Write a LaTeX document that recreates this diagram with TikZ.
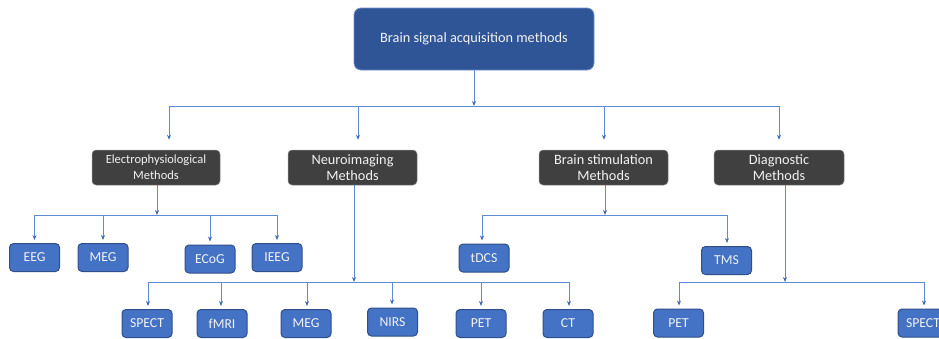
\documentclass[tikz,border=0pt]{standalone}
\usepackage{fontspec}
\setmainfont{Carlito}
\usetikzlibrary{arrows.meta}
\definecolor{rootfill}{HTML}{2F5597}
\definecolor{rootline}{HTML}{6F8FC8}
\definecolor{catfill}{HTML}{404040}
\definecolor{catline}{HTML}{8A8A8A}
\definecolor{leaffill}{HTML}{4472C4}
\definecolor{leafline}{HTML}{2F4F8A}
\definecolor{wire}{HTML}{5F8AD6}
\definecolor{tipcol}{HTML}{3C68BE}
\definecolor{label}{HTML}{F2F2F2}
\tikzset{
  rootbox/.style={rectangle, rounded corners=7pt, fill=rootfill, draw=rootline, line width=0.8pt,
    minimum width=240pt, minimum height=62pt, text=label, font=\fontsize{14.3}{16}\selectfont},
  catbox/.style={rectangle, rounded corners=4pt, fill=catfill, draw=catline, line width=0.5pt,
    minimum height=35pt, text=label, align=center, inner sep=0pt,
    font=\fontsize{14.3}{16.5}\selectfont},
  leafbox/.style={rectangle, rounded corners=4pt, fill=leaffill, draw=leafline, line width=1pt,
    minimum width=50pt, minimum height=28pt, inner sep=0pt, text=label,
    font=\fontsize{13.7}{15}\selectfont},
  wireline/.style={draw=wire, line width=1pt},
  feed/.style={wireline, -{Stealth[length=5pt,width=4pt,color=tipcol]}},
}
\begin{document}
\begin{tikzpicture}[x=1pt,y=-1pt]
\useasboundingbox (0,0) rectangle (939,338);
\clip (0,0) rectangle (939,338);

% root
\node[rootbox] (root) at (474,39) {Brain signal acquisition methods};

% categories
\node[catbox, minimum width=128pt, font=\fontsize{12.5}{16}\selectfont] (elec) at (156,167.5) {Electrophysiological\\Methods};
\node[catbox, minimum width=129pt] (neuro) at (352.5,167.5) {Neuroimaging\\Methods};
\node[catbox, minimum width=129pt] (stim) at (603.5,167.5) {Brain stimulation\\Methods};
\node[catbox, minimum width=130pt] (diag) at (779,167.5) {Diagnostic\\Methods};

% electrophysiological leaves
\node[leafbox] (eeg) at (34.5,257.5) {EEG};
\node[leafbox] (meg1) at (103,257.5) {MEG};
\node[leafbox] (ecog) at (210,259) {ECoG};
\node[leafbox] (ieeg) at (277,257.5) {IEEG};

% stimulation leaves
\node[leafbox] (tdcs) at (484,258) {tDCS};
\node[leafbox] (tms) at (726.5,260.5) {TMS};

% neuroimaging leaves
\node[leafbox] (spect1) at (147,323.5) {SPECT};
\node[leafbox] (fmri) at (222,323.5) {fMRI};
\node[leafbox] (meg2) at (306,323.5) {MEG};
\node[leafbox] (nirs) at (392.5,322) {NIRS};
\node[leafbox] (pet1) at (481,323.5) {PET};
\node[leafbox] (ct) at (568,323.5) {CT};

% diagnostic leaves
\node[leafbox] (pet2) at (678.5,323) {PET};
\node[leafbox] (spect2) at (923,323) {SPECT};

% root -> categories
\coordinate (j0) at (474,106);
\coordinate (a1) at (169,106);
\coordinate (a2) at (358,106);
\coordinate (a3) at (604,106);
\coordinate (a4) at (779,106);
\draw[feed] (root) -- (j0);
\draw[wireline] (a1) -- (a4);
\draw[feed, shorten >=10pt] (a1) -- (a1 |- elec.north);
\draw[feed, shorten >=10pt] (a2) -- (a2 |- neuro.north);
\draw[feed, shorten >=10pt] (a3) -- (a3 |- stim.north);
\draw[feed, shorten >=10pt] (a4) -- (a4 |- diag.north);

% electrophysiological branch
\coordinate (j1) at (157,215);
\draw[feed] (j1 |- elec.south) -- (j1);
\draw[wireline] (eeg.north |- j1) -- (ieeg.north |- j1);
\draw[feed, shorten >=3pt] (eeg.north |- j1) -- (eeg);
\draw[feed, shorten >=3pt] (meg1.north |- j1) -- (meg1);
\draw[feed, shorten >=3pt] (ecog.north |- j1) -- (ecog);
\draw[feed, shorten >=3pt] (ieeg.north |- j1) -- (ieeg);

% stimulation branch
\coordinate (j2) at (605,215);
\coordinate (b1) at (482,215);
\coordinate (b2) at (727,215);
\draw[feed] (j2 |- stim.south) -- (j2);
\draw[wireline] (b1) -- (b2);
\draw[feed, shorten >=3pt] (b1) -- (b1 |- tdcs.north);
\draw[feed, shorten >=3pt] (b2) -- (b2 |- tms.north);

% neuroimaging branch
\coordinate (j3) at (354,282);
\coordinate (c1) at (148,282);
\coordinate (c2) at (221,282);
\coordinate (c3) at (307,282);
\coordinate (c4) at (392,282);
\coordinate (c5) at (481,282);
\coordinate (c6) at (569,282);
\draw[feed] (j3 |- neuro.south) -- (j3);
\draw[wireline] (c1) -- (c6);
\draw[feed, shorten >=3pt] (c1) -- (c1 |- spect1.north);
\draw[feed, shorten >=3pt] (c2) -- (c2 |- fmri.north);
\draw[feed, shorten >=3pt] (c3) -- (c3 |- meg2.north);
\draw[feed, shorten >=3pt] (c4) -- (c4 |- nirs.north);
\draw[feed, shorten >=3pt] (c5) -- (c5 |- pet1.north);
\draw[feed, shorten >=3pt] (c6) -- (c6 |- ct.north);

% diagnostic branch
\coordinate (j4) at (785,282);
\coordinate (d1) at (679,282);
\coordinate (d2) at (924,282);
\draw[feed] (j4 |- diag.south) -- (j4);
\draw[wireline] (d1) -- (d2);
\draw[feed, shorten >=3pt] (d1) -- (d1 |- pet2.north);
\draw[feed, shorten >=3pt] (d2) -- (d2 |- spect2.north);
\end{tikzpicture}
\end{document}
